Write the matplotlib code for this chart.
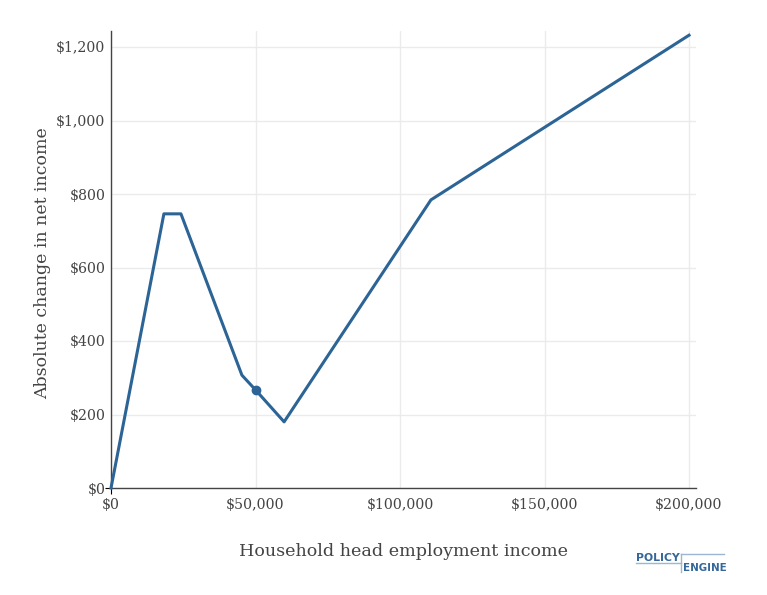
import matplotlib
matplotlib.use("Agg")
import matplotlib.pyplot as plt
from matplotlib.lines import Line2D
from matplotlib.ticker import FuncFormatter

# Data
income = [0, 18300, 24200, 45300, 50000, 59900, 110700, 200000]
change = [0, 746, 746, 307, 267, 180, 784, 1232]
marker_income = [50000]
marker_change = [267]
x_ticks = [0, 50000, 100000, 150000, 200000]
y_ticks = [0, 200, 400, 600, 800, 1000, 1200]

W, H = 767, 595
fig = plt.figure(figsize=(W / 100, H / 100), dpi=100)
left, right, bottom, top = 111, 696, 488, 31
ax = fig.add_axes([left / W, (H - bottom) / H, (right - left) / W, (bottom - top) / H])

line_color = "#2C6496"
text_color = "#444444"
plt.rcParams["font.family"] = "DejaVu Serif"

ax.plot(income, change, color=line_color, lw=2.2, solid_joinstyle="round", zorder=3, clip_on=False)
ax.plot(marker_income, marker_change, "o", color=line_color, ms=6, zorder=4)

ax.set_xlim(0, 200000 * (right - left) / (689 - left))
ax.set_ylim(0, 1200 * (bottom - top) / (bottom - 47))
ax.set_xticks(x_ticks)
ax.set_yticks(y_ticks)
ax.xaxis.set_major_formatter(FuncFormatter(lambda v, p: f"${v:,.0f}"))
ax.yaxis.set_major_formatter(FuncFormatter(lambda v, p: f"${v:,.0f}"))
ax.grid(True, color="#EBEBEB", lw=1)
ax.set_axisbelow(True)
for s in ["top", "right"]:
    ax.spines[s].set_visible(False)
for s in ["left", "bottom"]:
    ax.spines[s].set_color("#444444")
    ax.spines[s].set_linewidth(1)
ax.tick_params(length=0, pad=4, labelsize=10.2, labelcolor=text_color,
               labelfontfamily="DejaVu Serif")
ax.tick_params(axis="x", pad=7)
for t in [ax.xaxis.get_major_ticks()[0], ax.yaxis.get_major_ticks()[0]]:
    t.tick1line.set_markersize(4)
    t.tick1line.set_color("#444444")

ax.set_xlabel("Household head employment income", fontsize=12.6, color=text_color,
              family="DejaVu Serif")
ax.set_ylabel("Absolute change in net income", fontsize=12.5, color=text_color,
              family="DejaVu Serif")
ax.xaxis.set_label_coords(0.5, -(551 - bottom) / (bottom - top))
ax.xaxis.label.set_va("center")
ax.yaxis.set_label_coords(-(left - 43) / (right - left), 0.493)
ax.yaxis.label.set_va("center")

# Logo
logo_text = "#35679A"
logo_line = "#9DB6D1"
fig.text(636 / W, 1 - 558 / H, "POLICY", fontsize=7.8, fontweight="bold", color=logo_text,
         family="DejaVu Sans", va="center", ha="left")
fig.text(683 / W, 1 - 568 / H, "ENGINE", fontsize=7.4, fontweight="bold", color=logo_text,
         family="DejaVu Sans", va="center", ha="left")
def fl(x0, y0, x1, y1):
    fig.add_artist(Line2D([x0 / W, x1 / W], [1 - y0 / H, 1 - y1 / H], color=logo_line, lw=1))
fl(636, 563, 681, 563)
fl(681, 554, 681, 572)
fl(681, 554, 724, 554)

fig.savefig("out.png", dpi=100, facecolor="white")
